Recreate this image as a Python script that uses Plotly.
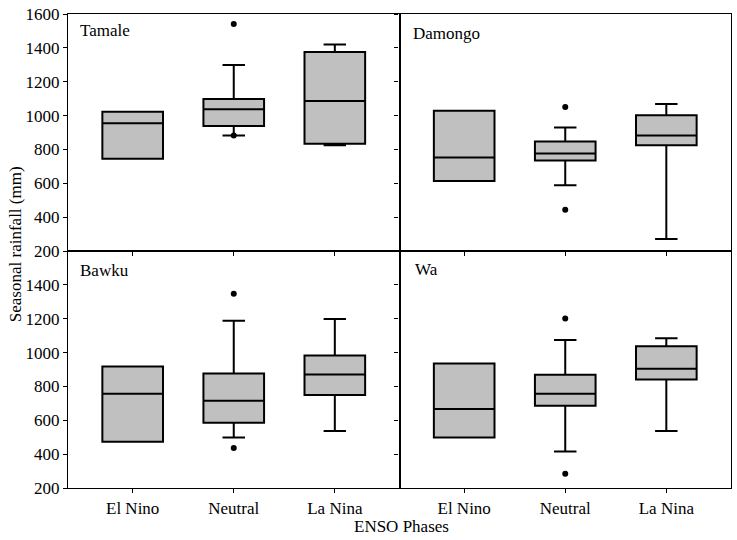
import plotly.graph_objects as go
from plotly.subplots import make_subplots

# ENSO phases on the x axis
phases = ['El Nino', 'Neutral', 'La Nina']

# box statistics per station (lower whisker, Q1, median, Q3, upper whisker), mm
tamale_low = [745, 882, 824]
tamale_q1 = [745, 939, 833]
tamale_med = [955, 1037, 1086]
tamale_q3 = [1022, 1098, 1376]
tamale_high = [1022, 1298, 1420]

damongo_low = [614, 588, 271]
damongo_q1 = [614, 735, 825]
damongo_med = [753, 776, 882]
damongo_q3 = [1029, 847, 1002]
damongo_high = [1029, 929, 1069]

bawku_low = [473, 498, 537]
bawku_q1 = [473, 586, 749]
bawku_med = [757, 716, 871]
bawku_q3 = [918, 876, 982]
bawku_high = [918, 1188, 1198]

wa_low = [498, 416, 537]
wa_q1 = [498, 686, 841]
wa_med = [667, 757, 904]
wa_q3 = [935, 869, 1037]
wa_high = [935, 1075, 1084]

# outliers (phase, value)
tamale_out_x = ['Neutral', 'Neutral']
tamale_out_y = [1541, 882]
damongo_out_x = ['Neutral', 'Neutral']
damongo_out_y = [1051, 443]
bawku_out_x = ['Neutral', 'Neutral']
bawku_out_y = [1347, 437]
wa_out_x = ['Neutral', 'Neutral']
wa_out_y = [1202, 284]

stations = [
    ('Tamale', 1, 1, tamale_low, tamale_q1, tamale_med, tamale_q3, tamale_high,
     tamale_out_x, tamale_out_y),
    ('Damongo', 1, 2, damongo_low, damongo_q1, damongo_med, damongo_q3, damongo_high,
     damongo_out_x, damongo_out_y),
    ('Bawku', 2, 1, bawku_low, bawku_q1, bawku_med, bawku_q3, bawku_high,
     bawku_out_x, bawku_out_y),
    ('Wa', 2, 2, wa_low, wa_q1, wa_med, wa_q3, wa_high, wa_out_x, wa_out_y),
]

font_name = '"Liberation Serif", "Times New Roman", Times, serif'
font_size = 17

fig = make_subplots(rows=2, cols=2, horizontal_spacing=0, vertical_spacing=0)

for name, r, c, low, q1, med, q3, high, ox, oy in stations:
    fig.add_trace(
        go.Box(
            x=phases,
            lowerfence=low,
            q1=q1,
            median=med,
            q3=q3,
            upperfence=high,
            width=0.6,
            whiskerwidth=0.37,
            fillcolor='#c0c0c0',
            line=dict(color='black', width=2),
            boxpoints=False,
            hoverinfo='y',
            showlegend=False,
        ),
        row=r, col=c
    )
    fig.add_trace(
        go.Scatter(
            x=ox,
            y=oy,
            mode='markers',
            marker=dict(color='black', size=6),
            showlegend=False,
        ),
        row=r, col=c
    )

# Axes
axis_style = dict(
    showline=True, linecolor='black', linewidth=1.3, mirror=True,
    showgrid=False, zeroline=False,
    ticks='outside', ticklen=4, tickwidth=1.2, tickcolor='black',
    tickfont=dict(family=font_name, size=font_size, color='black'),
)
for r in (1, 2):
    for c in (1, 2):
        fig.update_xaxes(
            type='category', categoryorder='array', categoryarray=phases,
            range=[-0.64, 2.64], showticklabels=(r == 2),
            row=r, col=c, **axis_style
        )
        ticks = [200, 400, 600, 800, 1000, 1200, 1400, 1600] if r == 1 else \
            [200, 400, 600, 800, 1000, 1200, 1400]
        fig.update_yaxes(
            range=[200, 1600], tickvals=ticks,
            showticklabels=(c == 1), ticklabeloverflow='allow',
            row=r, col=c, **axis_style
        )

# Panel labels
label_pos = {'Tamale': ('x domain', 'y domain', 0.03, 0.93),
             'Damongo': ('x2 domain', 'y2 domain', 0.035, 0.917),
             'Bawku': ('x3 domain', 'y3 domain', 0.03, 0.917),
             'Wa': ('x4 domain', 'y4 domain', 0.04, 0.92)}
for name, (xr, yr, x, y) in label_pos.items():
    fig.add_annotation(
        text=name, xref=xr, yref=yr, x=x, y=y,
        xanchor='left', yanchor='middle', showarrow=False,
        font=dict(family=font_name, size=font_size, color='black')
    )

# Axis titles
fig.add_annotation(
    text='Seasonal rainfall (mm)', xref='paper', yref='paper',
    x=-0.078, y=0.515, textangle=-90, showarrow=False,
    xanchor='center', yanchor='middle',
    font=dict(family=font_name, size=font_size, color='black')
)
fig.add_annotation(
    text='ENSO Phases', xref='paper', yref='paper',
    x=0.503, y=-0.082, showarrow=False,
    xanchor='center', yanchor='middle',
    font=dict(family=font_name, size=font_size, color='black')
)

fig.update_layout(
    width=737, height=540,
    margin=dict(l=68, r=5, t=12, b=52),
    plot_bgcolor='white', paper_bgcolor='white',
    showlegend=False,
)

# drop the default page margin so the figure fills the window exactly
fig.write_html(
    "out.html",
    config={'displayModeBar': False},
    post_script="document.body.style.margin='0';",
)
